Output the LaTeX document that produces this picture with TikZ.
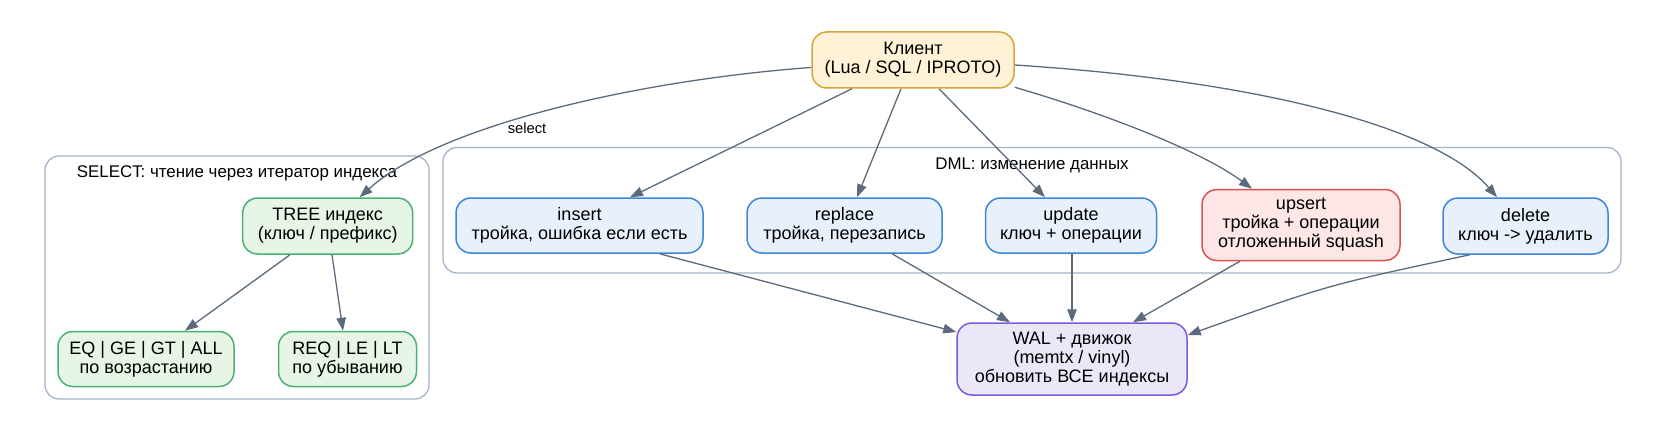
\documentclass[tikz,border=0pt]{standalone}
\usepackage{fontspec}
\setmainfont{Liberation Sans}
\usetikzlibrary{arrows.meta,calc}
\definecolor{edgec}{HTML}{5B6B7C}
\definecolor{clbord}{HTML}{A3B4C8}
\definecolor{yfill}{HTML}{FFF2D6}
\definecolor{ybord}{HTML}{D9A43A}
\definecolor{gfill}{HTML}{E6F5E6}
\definecolor{gbord}{HTML}{4CAF74}
\definecolor{bfill}{HTML}{E8F0FC}
\definecolor{bbord}{HTML}{3D86D9}
\definecolor{rfill}{HTML}{FCE7E6}
\definecolor{rbord}{HTML}{D9534F}
\definecolor{pfill}{HTML}{ECE6F9}
\definecolor{pbord}{HTML}{7B5CD6}
\begin{document}
\begin{tikzpicture}[x=1pt,y=-1pt,
  box/.style={rectangle, rounded corners=15pt, line width=1.5pt, inner sep=0pt, align=center, font=\fontsize{18}{19}\selectfont},
  ybox/.style={box, draw=ybord, fill=yfill},
  gbox/.style={box, draw=gbord, fill=gfill},
  bbox/.style={box, draw=bbord, fill=bfill},
  rbox/.style={box, draw=rbord, fill=rfill},
  pbox/.style={box, draw=pbord, fill=pfill},
  cluster/.style={draw=clbord, rounded corners=14pt, line width=1.3pt},
  conn/.style={draw=edgec, line width=1.3pt, -{Triangle[length=13pt,width=9.5pt]}},
  ctitle/.style={anchor=base, inner sep=0pt, font=\fontsize{16.9}{18}\selectfont},
  lbl/.style={anchor=base, inner sep=0pt, font=\fontsize{14.7}{16}\selectfont}]
\useasboundingbox (0,0) rectangle (1666,444);
% clusters
\draw[cluster] (45,156) rectangle (429,399);
\draw[cluster] (443,147.5) rectangle (1621,273);
\node[ctitle] (seltitle) at (237,177) {SELECT: чтение через итератор индекса};
\node[ctitle] (dmltitle) at (1032,169.5) {DML: изменение данных};
% nodes
\node[ybox, minimum width=202pt, minimum height=56pt] (client) at (913,60) {Клиент\\(Lua / SQL / IPROTO)};
\node[gbox, minimum width=170pt, minimum height=56pt] (tree) at (327.7,226) {TREE индекс\\(ключ / префикс)};
\node[gbox, minimum width=176pt, minimum height=55pt] (eq) at (146,359) {EQ | GE | GT | ALL\\по возрастанию};
\node[gbox, minimum width=138pt, minimum height=55pt] (req) at (347.5,359) {REQ | LE | LT\\по убыванию};
\node[bbox, minimum width=247pt, minimum height=55pt] (insert) at (579.5,225.5) {insert\\тройка, ошибка если есть};
\node[bbox, minimum width=195pt, minimum height=55pt] (replace) at (844.5,225.5) {replace\\тройка, перезапись};
\node[bbox, minimum width=171pt, minimum height=55pt] (update) at (1071,225.5) {update\\ключ + операции};
\node[rbox, minimum width=198pt, minimum height=71pt] (upsert) at (1301,225) {upsert\\тройка + операции\\отложенный squash};
\node[bbox, minimum width=165pt, minimum height=56pt] (delete) at (1525.5,226) {delete\\ключ -> удалить};
\node[pbox, minimum width=230pt, minimum height=72pt] (wal) at (1072,359) {WAL + движок\\(memtx / vinyl)\\обновить ВСЕ индексы};
% edges from client
\draw[conn] (client) .. controls (640,80) and (440,125) .. (tree);
\node[lbl] (selectlbl) at (527,133) {select};
\draw[conn] ($(client.south)+(-61,0)$) -- ($(insert.north)+(50.5,0)$);
\draw[conn] ($(client.south)+(-12,0)$) -- ($(replace.north)+(12.5,0)$);
\draw[conn] ($(client.south)+(26,0)$) -- ($(update.north)+(-26,0)$);
\draw[conn] (client.-15) .. controls (1100,112) and (1200,150) .. ($(upsert.north)+(-49,0)$);
\draw[conn] ($(client.east)+(0,5)$) .. controls (1250,80) and (1435,125) .. ($(delete.north)+(-28.5,0)$);
% select cluster edges
\draw[conn] ($(tree.south)+(-37.7,0)$) -- ($(eq.north)+(39,0)$);
\draw[conn] ($(tree.south)+(4.3,0)$) -- ($(req.north)+(-4.5,0)$);
% to WAL
\draw[conn] ($(insert.south)+(80,0)$) -- ($(wal.west)+(0,-27)$);
\draw[conn] ($(replace.south)+(47.5,0)$) -- ($(wal.north)+(-62,0)$);
\draw[conn] ($(update.south)+(1,0)$) -- (wal.north);
\draw[conn] ($(upsert.south)+(-61,0)$) -- ($(wal.north)+(61,0)$);
\draw[conn] ($(delete.south)+(-55.5,0)$) .. controls (1328,285) .. ($(wal.east)+(0,-24)$);
\end{tikzpicture}
\end{document}
